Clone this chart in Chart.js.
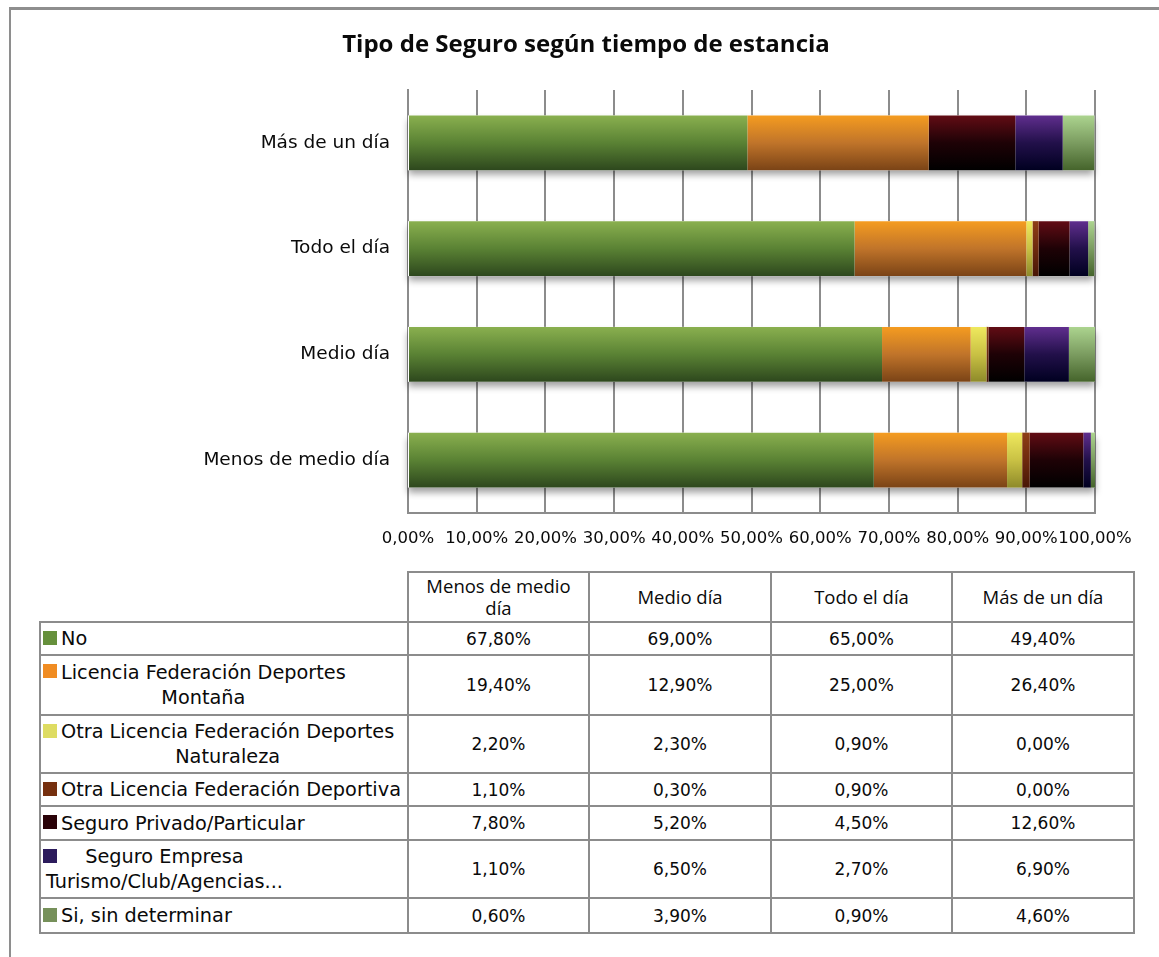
<!DOCTYPE html>
<html>
<head>
<meta charset="utf-8">
<script src="https://cdn.jsdelivr.net/npm/chart.js@4.4.1/dist/chart.umd.min.js"></script>
<style>
  html, body { margin:0; padding:0; background:#fff; width:1159px; height:957px; overflow:hidden; }
  body { position:relative; }
  #frame { position:absolute; left:9px; top:7px; width:1200px; height:1000px; border-left:2px solid #8e8e8e; border-top:3px solid #8e8e8e; box-sizing:border-box; }
  #wrap { position:absolute; left:77px; top:10px; width:1082px; height:550px; }
  #tbl { position:absolute; left:39px; top:571px; border-collapse:collapse; table-layout:fixed; color:#0a0a0a; }
  #tbl td { border:2px solid #8c8c8c; padding:0; text-align:center; vertical-align:middle; }
  #tbl td.blank { border-top:none; border-left:none; }
  #tbl td.head { font-family:"Open Sans", Lato, sans-serif; font-size:18.5px; line-height:22px; }
  #tbl td.val { font-family:"DejaVu Sans", sans-serif; font-size:17px; }
  #tbl td.lab { position:relative; text-align:left; font-family:"DejaVu Sans", sans-serif; font-size:19.3px; line-height:25px; }
  .sq { position:absolute; left:2px; width:14px; height:14px; }
  .txt { display:inline-block; text-align:center; white-space:nowrap; }
</style>
</head>
<body>
<div id="frame"></div>
<div id="wrap"><canvas id="c" width="1082" height="550"></canvas></div>
<table id="tbl"></table>
<script>
// ---- data ----
const categories = ['Menos de medio día', 'Medio día', 'Todo el día', 'Más de un día'];
const seriesNames = ['No', 'Licencia Federación Deportes Montaña', 'Otra Licencia Federación Deportes Naturaleza', 'Otra Licencia Federación Deportiva', 'Seguro Privado/Particular', 'Seguro Empresa Turismo/Club/Agencias...', 'Si, sin determinar'];
const serieNo            = [67.8, 69.0, 65.0, 49.4];
const serieMontana       = [19.4, 12.9, 25.0, 26.4];
const serieNaturaleza    = [2.2, 2.3, 0.9, 0.0];
const serieDeportiva     = [1.1, 0.3, 0.9, 0.0];
const seriePrivado       = [7.8, 5.2, 4.5, 12.6];
const serieEmpresa       = [1.1, 6.5, 2.7, 6.9];
const serieSinDeterminar = [0.6, 3.9, 0.9, 4.6];
const xTickValues = [0, 10, 20, 30, 40, 50, 60, 70, 80, 90, 100];
const chartTitle = 'Tipo de Seguro según tiempo de estancia';

// ---- styles ----
const seriesData = [serieNo, serieMontana, serieNaturaleza, serieDeportiva, seriePrivado, serieEmpresa, serieSinDeterminar];
const gradStops = [
  ['#8ab04f', '#5a8234', '#2d471d'],
  ['#f59c20', '#c0742a', '#7a4316'],
  ['#efe95e', '#c9c144', '#8e8a2a'],
  ['#8e3e16', '#6e2a0e', '#481606'],
  ['#620c14', '#1e0206', '#000000'],
  ['#602e8e', '#22104a', '#000020'],
  ['#acd48f', '#7b9c60', '#45642b']
];
const legendColors = ['#66903c', '#f08c22', '#dedc62', '#76300f', '#2a0208', '#2c1b5c', '#76905a'];
const labelBreak = [0, 3, 4, 0, 0, 2, 0];     // words on first line
const labelIndent = [20, 20, 20, 20, 20, 5, 20];
const headerBreak = [3, 0, 0, 0];
const colWidths = [368, 181, 182, 181, 182];
const rowHeights = [50, 33, 60, 58, 33, 34, 58, 35];
const BAR_FRACTION = 0.52;

function makeGradient(stops, fallback) {
  return (ctx) => {
    const chart = ctx.chart;
    const ys = chart.scales && chart.scales.y;
    if (!ys || ctx.type !== 'data' || !isFinite(ys.bottom)) return fallback;
    const band = Math.abs(ys.bottom - ys.top) / categories.length;
    const h = band * BAR_FRACTION;
    const y = ys.getPixelForValue(ctx.dataIndex);
    const g = chart.ctx.createLinearGradient(0, y - h / 2, 0, y + h / 2);
    g.addColorStop(0, stops[0]);
    g.addColorStop(0.5, stops[1]);
    g.addColorStop(1, stops[2]);
    return g;
  };
}

const shadowPlugin = {
  id: 'barShadow',
  beforeDatasetsDraw(chart) {
    const { ctx, scales } = chart;
    const xs = scales.x, ys = scales.y;
    const band = Math.abs(ys.bottom - ys.top) / categories.length;
    const h = band * BAR_FRACTION;
    ctx.save();
    ctx.shadowColor = 'rgba(0,0,0,0.38)';
    ctx.shadowBlur = 7;
    ctx.shadowOffsetY = 5;
    ctx.fillStyle = '#ffffff';
    categories.forEach((_, i) => {
      const total = seriesData.reduce((s, arr) => s + arr[i], 0);
      const x0 = xs.getPixelForValue(0);
      const x1 = xs.getPixelForValue(Math.min(total, 100));
      const y = ys.getPixelForValue(i);
      ctx.fillRect(x0, y - h / 2, x1 - x0, h);
    });
    ctx.restore();
  }
};

const fmt = (v) => v.toFixed(2).replace('.', ',') + '%';

new Chart(document.getElementById('c'), {
  type: 'bar',
  data: {
    labels: categories,
    datasets: seriesNames.map((name, k) => ({
      label: name,
      data: seriesData[k],
      backgroundColor: makeGradient(gradStops[k], legendColors[k]),
      borderWidth: 0,
      categoryPercentage: 1,
      barPercentage: BAR_FRACTION
    }))
  },
  options: {
    indexAxis: 'y',
    responsive: false,
    animation: false,
    devicePixelRatio: 1,
    layout: { padding: { left: 0, right: 64, top: 0, bottom: 0 } },
    plugins: {
      legend: { display: false },
      tooltip: { enabled: false },
      title: {
        display: true,
        text: chartTitle,
        color: '#0a0a0a',
        font: { family: '"Open Sans", Lato, sans-serif', size: 24, weight: 'bold' },
        padding: { top: 21, bottom: 30.2 }
      }
    },
    scales: {
      x: {
        stacked: true,
        min: 0, max: 100,
        afterBuildTicks: (s) => { s.ticks = xTickValues.map(v => ({ value: v })); },
        afterFit: (s) => { s.height = 47; },
        grid: { color: '#8c8c8c', lineWidth: 2, drawTicks: false },
        border: { display: true, color: '#8c8c8c', width: 2 },
        ticks: {
          padding: 16,
          maxRotation: 0,
          autoSkip: false,
          color: '#0a0a0a',
          font: { family: '"DejaVu Sans", sans-serif', size: 16.5 },
          callback: (v) => fmt(v)
        }
      },
      y: {
        stacked: true,
        reverse: true,
        afterFit: (s) => { s.width = 331; },
        grid: { display: false, drawTicks: false },
        border: { display: true, color: '#8c8c8c', width: 2 },
        ticks: {
          padding: 18,
          color: '#0a0a0a',
          font: { family: '"DejaVu Sans", sans-serif', size: 18.5 }
        }
      }
    }
  },
  plugins: [shadowPlugin]
});

// ---- data table ----
const tbl = document.getElementById('tbl');
const cg = document.createElement('colgroup');
colWidths.forEach(w => { const c = document.createElement('col'); c.style.width = w + 'px'; cg.appendChild(c); });
tbl.appendChild(cg);
function breakText(text, n) {
  if (!n) return [text];
  const w = text.split(' ');
  return [w.slice(0, n).join(' '), w.slice(n).join(' ')];
}
const hr = document.createElement('tr');
hr.style.height = rowHeights[0] + 'px';
const blank = document.createElement('td'); blank.className = 'blank'; hr.appendChild(blank);
categories.forEach((cat, j) => {
  const td = document.createElement('td'); td.className = 'head';
  breakText(cat, headerBreak[j]).forEach((line, li) => {
    if (li) td.appendChild(document.createElement('br'));
    td.appendChild(document.createTextNode(line));
  });
  hr.appendChild(td);
});
tbl.appendChild(hr);
seriesNames.forEach((name, k) => {
  const tr = document.createElement('tr');
  tr.style.height = rowHeights[k + 1] + 'px';
  const lab = document.createElement('td'); lab.className = 'lab';
  const lines = breakText(name, labelBreak[k]);
  const sq = document.createElement('span'); sq.className = 'sq';
  sq.style.background = legendColors[k];
  sq.style.top = (lines.length > 1 ? 8 : ((rowHeights[k + 1] - 2) / 2 - 8)) + 'px';
  lab.appendChild(sq);
  const tx = document.createElement('span'); tx.className = 'txt';
  tx.style.paddingLeft = labelIndent[k] + 'px';
  lines.forEach((line, li) => {
    if (li) tx.appendChild(document.createElement('br'));
    tx.appendChild(document.createTextNode(line));
  });
  lab.appendChild(tx);
  tr.appendChild(lab);
  seriesData[k].forEach(v => {
    const td = document.createElement('td'); td.className = 'val';
    td.textContent = fmt(v);
    tr.appendChild(td);
  });
  tbl.appendChild(tr);
});
</script>
</body>
</html>
